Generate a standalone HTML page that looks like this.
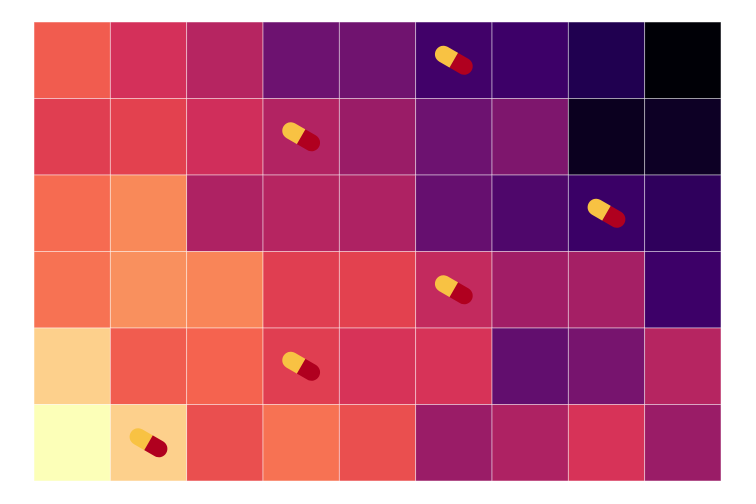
<!DOCTYPE html>
<html><head><meta charset="utf-8"><style>html,body{margin:0;padding:0;background:#fff;width:756px;height:504px;overflow:hidden}</style></head>
<body>
<svg id="chart" width="756" height="504" xmlns="http://www.w3.org/2000/svg"></svg>
<script>
const rows = [0,1,2,3,4,5];
const cols = [0,1,2,3,4,5,6,7,8];
const values = [
 [0.71,0.62,0.55,0.35,0.36,0.23,0.22,0.12,0.00],
 [0.66,0.67,0.61,0.54,0.48,0.35,0.40,0.04,0.05],
 [0.74,0.82,0.53,0.55,0.53,0.33,0.27,0.21,0.17],
 [0.76,0.83,0.81,0.66,0.67,0.58,0.50,0.51,0.22],
 [0.92,0.71,0.72,0.66,0.63,0.63,0.32,0.38,0.55],
 [1.00,0.92,0.69,0.76,0.69,0.48,0.53,0.63,0.48]
];
const pillRows = [0,1,2,3,4,5];
const pillCols = [5,3,7,5,3,1];
const stops = [[0,'#000006'],[0.12,'#200050'],[0.22,'#3d0068'],[0.35,'#6d1270'],[0.5,'#a11d66'],[0.62,'#d4305a'],[0.67,'#e3414f'],[0.72,'#f5634f'],[0.82,'#f98959'],[0.92,'#fdd08c'],[1,'#fcffb8']];
function hex(h){return [1,3,5].map(i=>parseInt(h.substr(i,2),16));}
function cmap(v){
  for(let i=1;i<stops.length;i++){
    if(v<=stops[i][0]){const a=stops[i-1],b=stops[i];const t=(v-a[0])/(b[0]-a[0]);
      const ca=hex(a[1]),cb=hex(b[1]);return 'rgb('+ca.map((c,k)=>Math.round(c+(cb[k]-c)*t)).join(',')+')';}
  }
  return stops[stops.length-1][1];
}
const X0=34,X1=721,Y0=22,Y1=481;
const cw=(X1-X0)/cols.length, ch=(Y1-Y0)/rows.length;
const xs=c=>X0+c*cw, ys=r=>Y0+r*ch;
const svg=document.getElementById('chart');
const NS='http://www.w3.org/2000/svg';
rows.forEach(r=>cols.forEach(c=>{
  const el=document.createElementNS(NS,'rect');
  el.setAttribute('x',xs(c));el.setAttribute('y',ys(r));
  el.setAttribute('width',cw);el.setAttribute('height',ch);
  el.setAttribute('fill',cmap(values[r][c]));
  el.setAttribute('stroke','#ffffff');el.setAttribute('stroke-opacity','0.6');el.setAttribute('stroke-width','0.8');
  
  
  svg.appendChild(el);
}));
pillRows.forEach((r,i)=>{
  const cx=xs(pillCols[i])+cw/2, cy=ys(r)+ch/2;
  const g=document.createElementNS(NS,'g');
  g.setAttribute('transform','translate('+cx+','+cy+') rotate(30)');
  
  
  g.innerHTML='<path d="M0,-8.5 L-12,-8.5 A8.5,8.5 0 0 0 -12,8.5 L0,8.5 Z" fill="#f8c243"/><path d="M0,-8.5 L12,-8.5 A8.5,8.5 0 0 1 12,8.5 L0,8.5 Z" fill="#b0001f"/>';
  svg.appendChild(g);
});
</script>
</body></html>
